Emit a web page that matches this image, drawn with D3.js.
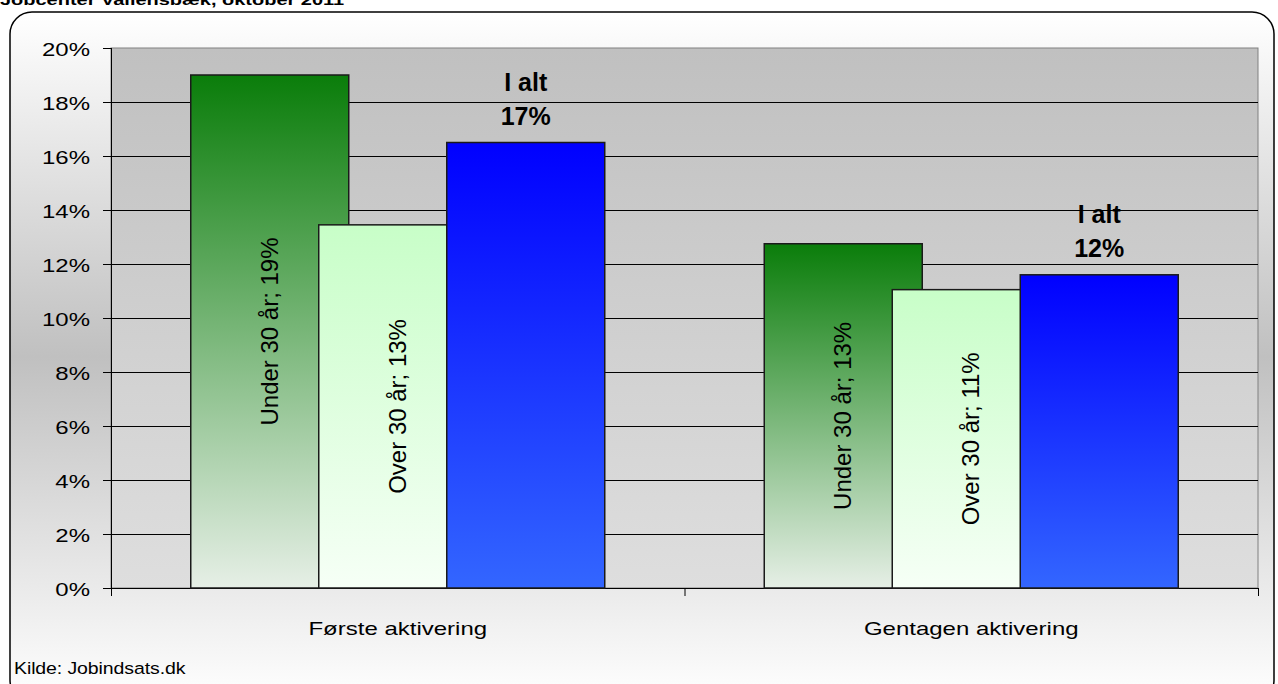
<!DOCTYPE html>
<html>
<head>
<meta charset="utf-8">
<title>Jobcenter Vallensbæk, oktober 2011</title>
<script src="https://cdn.jsdelivr.net/npm/d3@7"></script>
<style>
body { margin: 0; background: #fff; }
svg { display: block; font-family: "Liberation Sans", Arial, sans-serif; }
</style>
</head>
<body>
<svg id="chart" width="1278" height="684"></svg>
<script>
// data
var categories = ["Første aktivering", "Gentagen aktivering"];
var series = ["Under 30 år", "Over 30 år", "I alt"];
var under30 = [19.0, 12.75];
var over30 = [13.45, 11.05];
var total = [16.5, 11.6];
var yTicks = [0, 2, 4, 6, 8, 10, 12, 14, 16, 18, 20];

var svg = d3.select("#chart");
var margin = {top: 48, right: 20, bottom: 96, left: 111};
var plotW = 1258 - margin.left, plotH = 588 - margin.top;
var squash = 0.75; // the original picture is stretched sideways

var defs = svg.append("defs");
function vgrad(id, stops) {
  var g = defs.append("linearGradient").attr("id", id)
    .attr("x1", 0).attr("y1", 0).attr("x2", 0).attr("y2", 1);
  stops.forEach(function(s) {
    g.append("stop").attr("offset", s[0]).attr("stop-color", s[1]);
  });
}
vgrad("bgOuter", [[0, "#ffffff"], [0.5, "#c0c0c0"], [1, "#ffffff"]]);
vgrad("bgPlot", [[0, "#c0c0c0"], [1, "#dedede"]]);
vgrad("gUnder", [[0, "#0a7d0a"], [1, "#e6efe6"]]);
vgrad("gOver", [[0, "#c8fec8"], [1, "#f6fff6"]]);
vgrad("gTotal", [[0, "#0000ff"], [1, "#3366ff"]]);
var fills = ["url(#gUnder)", "url(#gOver)", "url(#gTotal)"];

// title (cut off at top)
svg.append("text").attr("transform", "translate(0,5) scale(1," + squash + ")")
  .attr("font-size", 20).attr("font-weight", "bold")
  .text("Jobcenter Vallensbæk, oktober 2011");

// outer rounded frame
svg.append("rect").attr("x", 10).attr("y", 12)
  .attr("width", 1264).attr("height", 690)
  .attr("rx", 22).attr("ry", 22)
  .attr("fill", "url(#bgOuter)").attr("stroke", "#000").attr("stroke-width", 1.5);

var g = svg.append("g").attr("transform", "translate(" + margin.left + "," + margin.top + ")");

var x0 = d3.scaleBand().domain(categories).range([0, plotW]);
var y = d3.scaleLinear().domain([0, 20]).range([plotH, 0]);

g.append("rect").attr("width", plotW).attr("height", plotH)
  .attr("fill", "url(#bgPlot)").attr("stroke", "#808080").attr("stroke-width", 1);

// gridlines
g.selectAll(".grid").data(yTicks.slice(1, -1)).enter().append("line")
  .attr("x1", 0).attr("x2", plotW)
  .attr("y1", function(d) { return y(d) + 0.5; })
  .attr("y2", function(d) { return y(d) + 0.5; })
  .attr("stroke", "#000").attr("stroke-width", 1);

// y axis
var yAxis = g.append("g")
  .call(d3.axisLeft(y).tickValues(yTicks).tickSize(8).tickPadding(13)
    .tickFormat(function(d) { return d + "%"; }));
yAxis.select(".domain").attr("stroke", "#000").attr("d", "M0.5,0V" + plotH);
yAxis.selectAll("text").attr("font-size", 24).attr("fill", "#000")
  .attr("font-family", "Liberation Sans, Arial, sans-serif")
  .attr("dy", "0.42em")
  .attr("transform", "scale(1," + squash + ")");

// x axis
var xAxis = g.append("g").attr("transform", "translate(0," + plotH + ")")
  .call(d3.axisBottom(x0).tickSize(0).tickFormat(""));
xAxis.select(".domain").attr("stroke", "#000").attr("d", "M0,0.5H" + plotW);
g.selectAll(".ctick").data([0, 1, 2]).enter().append("line")
  .attr("x1", function(d) { return d * x0.bandwidth() + 0.5; })
  .attr("x2", function(d) { return d * x0.bandwidth() + 0.5; })
  .attr("y1", plotH).attr("y2", plotH + 8).attr("stroke", "#000");
g.selectAll(".clab").data(categories).enter().append("text")
  .attr("transform", function(d) {
    return "translate(" + (x0(d) + x0.bandwidth() / 2) + "," + (plotH + 47) + ") scale(1," + squash + ")";
  })
  .attr("text-anchor", "middle").attr("font-size", 24).attr("fill", "#000")
  .text(function(d) { return d; });

// bars: width 158, overlapping by 30
var barW = 158, step = 128;
var values = [under30, over30, total];
var bars = [];
categories.forEach(function(c, ci) {
  var center = x0(c) + x0.bandwidth() / 2;
  var start = center - (step * 2 + barW) / 2;
  series.forEach(function(s, si) {
    bars.push({cat: c, si: si, v: values[si][ci], x: start + si * step});
  });
});

g.selectAll(".bar").data(bars).enter().append("rect")
  .attr("x", function(d) { return d.x; })
  .attr("y", function(d) { return y(d.v); })
  .attr("width", barW)
  .attr("height", function(d) { return plotH - y(d.v); })
  .attr("fill", function(d) { return fills[d.si]; })
  .attr("stroke", "#1a1a1a").attr("stroke-width", 1.5);

// inside rotated labels for age groups
g.selectAll(".blab").data(bars.filter(function(d) { return d.si < 2; })).enter().append("text")
  .attr("transform", function(d) {
    return "translate(" + (d.x + barW / 2 + 8) + "," + (y(d.v) + (plotH - y(d.v)) / 2) + ") rotate(-90)";
  })
  .attr("text-anchor", "middle").attr("font-size", 24).attr("fill", "#000")
  .text(function(d) { return series[d.si] + "; " + Math.round(d.v) + "%"; });

// labels above totals
var tot = bars.filter(function(d) { return d.si === 2; });
g.selectAll(".tlab1").data(tot).enter().append("text")
  .attr("x", function(d) { return d.x + barW / 2; })
  .attr("y", function(d) { return y(d.v) - 52; })
  .attr("text-anchor", "middle").attr("font-size", 25).attr("font-weight", "bold")
  .text("I alt");
g.selectAll(".tlab2").data(tot).enter().append("text")
  .attr("x", function(d) { return d.x + barW / 2; })
  .attr("y", function(d) { return y(d.v) - 18; })
  .attr("text-anchor", "middle").attr("font-size", 25).attr("font-weight", "bold")
  .text(function(d) { return Math.round(d.v) + "%"; });

// source
svg.append("text").attr("transform", "translate(14,674) scale(1,0.88)")
  .attr("font-size", 19.5).attr("letter-spacing", -0.1)
  .text("Kilde: Jobindsats.dk");
</script>
</body>
</html>
